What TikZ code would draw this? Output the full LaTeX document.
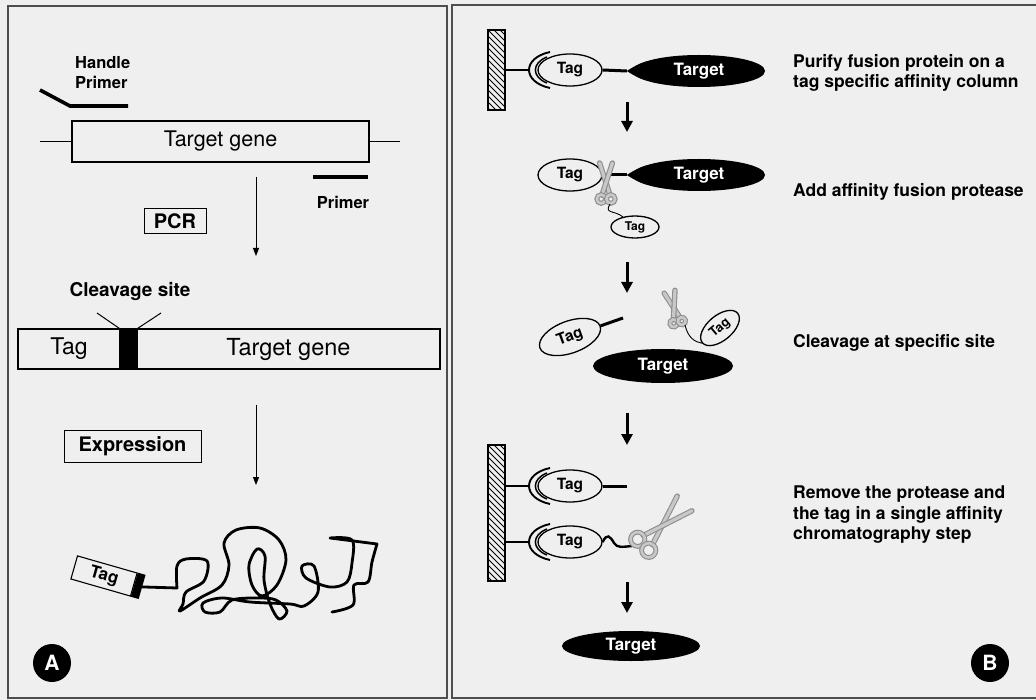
\documentclass[tikz,border=0pt]{standalone}
\usepackage{fontspec}
\setmainfont{TeX Gyre Heros}
\usetikzlibrary{shapes.geometric,arrows.meta,calc}

\definecolor{paper}{HTML}{EFEFEF}
\definecolor{frame}{HTML}{4E4E4E}
\definecolor{scisdark}{HTML}{8E8E8E}
\definecolor{scislight}{HTML}{C8C8C8}
\newcommand\setsz[2]{\fontsize{#1}{#2}\selectfont}

\tikzset{
  panel/.style={draw=frame, line width=1.4pt},
  genebox/.style={draw, line width=1.1pt, inner sep=0pt, minimum height=41pt},
  stepbox/.style={draw, line width=1pt, inner sep=0pt, font=\bfseries\setsz{20}{24}},
  boldtxt/.style={font=\bfseries\setsz{#1}{20}, inner sep=0pt},
  notetxt/.style={anchor=west, align=left, inner sep=0pt, font=\bfseries\setsz{17.5}{20.5}},
  thinarrow/.style={line width=1pt, -{Triangle[width=6pt,length=8pt]}},
  bigarrow/.style={line width=3pt, -{Triangle[width=11pt,length=11pt]}},
  tagell/.style={ellipse, draw, line width=1.3pt, minimum width=64pt, minimum height=32pt,
    inner sep=0pt, font=\bfseries\setsz{15.5}{18}},
  smalltag/.style={tagell, minimum width=48pt, minimum height=22pt, font=\bfseries\setsz{12}{14}},
  targetell/.style={ellipse, fill=black, minimum width=138pt, minimum height=32pt, inner sep=0pt,
    text=white, font=\bfseries\setsz{17}{20}},
  link/.style={line width=3pt},
  stalk/.style={line width=2pt},
  column/.style={draw, line width=1.1pt, minimum width=17pt, inner sep=0pt,
    path picture={\foreach \k in {-4,...,24}
      \draw[line width=0.8pt] ($(path picture bounding box.north west)+(0,\k*6)$) -- ++(22,22);}},
  badge/.style={circle, fill=black, minimum size=38pt, inner sep=0pt, text=white,
    font=\bfseries\setsz{21}{24}},
  scisblade/.style={draw=scisdark, line width=1.1pt, double=scislight, double distance=3.2pt, line cap=round},
  scisring/.style={draw=scisdark, line width=1.1pt, double=scislight, double distance=2.6pt},
  scis/.pic={
    \draw[scisblade] (5,10) -- (-8,-30);
    \draw[scisblade] (-5,10) -- (8,-30);
    \draw[scisring] (-6,15) circle[radius=5.5];
    \draw[scisring] (6,15) circle[radius=5.5];
  },
  grip/.pic={
    \draw[line width=1.9pt] (-20,-18) .. controls (-48,-12) and (-48,12) .. (-20,18);
    \draw[line width=1.5pt] (-23,-13) .. controls (-38.5,-7) and (-38.5,7) .. (-23,13);
  },
  % pointed left end of a fused target protein
  tgttip/.pic={
    \fill (-6,0) .. controls (2,-5) and (10,-10) .. (20,-10) -- (20,10)
      .. controls (10,10) and (2,5) .. (-6,0);
  }
}

\begin{document}
\begin{tikzpicture}[x=1pt,y=-1pt]
\useasboundingbox (0,0) rectangle (1036,700);
\fill[paper] (0,0) rectangle (1036,700);

% two framed panels
\draw[panel] (8,6) rectangle (447,698);
\draw[panel] (452,5) rectangle (1042,698);

% ---------------- panel A: cloning ----------------
\node[boldtxt=16.5, anchor=west, align=left] (hp) at (75,73) {Handle\\Primer};
\coordinate (hp1) at (40,90);
\coordinate (hp2) at (70,106);
\coordinate (hp3) at (128,106);
\draw[line width=3.6pt] (hp1) -- (hp2) -- (hp3);

\node[genebox, minimum width=297pt, font=\setsz{21.5}{24}] (g1) at (220.5,141.5) {Target gene};
\coordinate (fl) at (40,141.5);
\coordinate (fr) at (400,141.5);
\draw[line width=1pt] (fl) -- (g1.west);
\draw[line width=1pt] (g1.east) -- (fr);

\coordinate (pr1) at (313,177);
\coordinate (pr2) at (368,177);
\draw[line width=4pt] (pr1) -- (pr2);
\node[boldtxt=16.5] (prt) at (343,202) {Primer};

\node[stepbox, minimum width=62pt, minimum height=25pt] (pcr) at (175,221) {PCR};
\coordinate (a1s) at (256,177);
\coordinate (a1e) at (256,256);
\draw[thinarrow] (a1s) -- (a1e);

\node[boldtxt=19] (cs) at (130,291) {Cleavage site};
\node[genebox, minimum width=102pt, minimum height=40pt, font=\setsz{23}{26}] (ftag) at (69,349) {Tag};
\node[genebox, minimum width=17pt, minimum height=40pt, fill=black] (fbar) at (128.5,349) {};
\node[genebox, minimum width=303pt, minimum height=40pt, font=\setsz{23.5}{26}] (fgene) at (288.5,349) {Target gene};
\coordinate (cl1) at (97,313);
\coordinate (cl2) at (161,313);
\draw[line width=1pt] (fbar.north west) -- (cl1);
\draw[line width=1pt] (fbar.north east) -- (cl2);

\node[stepbox, minimum width=137pt, minimum height=32pt] (expr) at (132.5,446) {Expression};
\coordinate (a2s) at (256,405);
\coordinate (a2e) at (256,485);
\draw[thinarrow] (a2s) -- (a2e);

% expressed fusion protein: tag plus unfolded chain
\node[draw, line width=1.1pt, rotate=-16, minimum width=62pt, minimum height=24pt, inner sep=0pt,
  font=\bfseries\setsz{17}{20}] (ptag) at (104,576) {Tag};
\node[draw, line width=1.1pt, fill=black, rotate=-16, minimum width=7pt, minimum height=24pt,
  inner sep=0pt, anchor=west] (pcap) at (ptag.east) {};
\draw[line width=2.8pt, line join=round, line cap=round]
  (pcap.east) -- plot[smooth, tension=0.55] coordinates {
    (177,588) (177,566) (186,559) (207,561) (204,581) (186,592) (183,604) (180,611)
    (200,598) (222,585) (229,565) (224,543) (236,530) (260,528) (279,540) (286,560)
    (277,585) (262,596) (252,585) (249,565) (257,549) (265,556) (264,580) (270,604)
    (279,619) (287,611) (276,600) (258,598) (232,600) (220,612) (205,612) (203,603)
    (222,598) (250,602) (290,604) (304,606) (318,592) (314,566) (302,566) (306,578)
    (330,587) (347,582) (352,563) (352,540) (330,538)}
  -- (377,544)
  -- plot[smooth, tension=0.55] coordinates {(377,544) (372,562) (368,582) (354,585) (353,605) (332,612)};

\node[badge] (badgeA) at (52,663) {A};

% ---------------- panel B: purification ----------------
% step 1: bound to the affinity column
\node[column, minimum height=80pt] (col1) at (496.5,70) {};
\node[tagell] (tag1) at (570,70) {Tag};
\pic at (tag1.center) {grip};
\coordinate (g1c) at ($(tag1.center)+(-41,0)$);
\draw[stalk] (col1.east |- g1c) -- (g1c);
\node[targetell, minimum width=132pt] (tgt1) at (699,71) {Target};
\pic at (tgt1.west) {tgttip};
\coordinate (tip1) at ($(tgt1.west)+(-6,0)$);
\draw[link] (tag1.east) -- (tip1);
\node[notetxt] (n1) at (793,73) {Purify fusion protein on a\\tag specific affinity column};

\coordinate (b1s) at (627,102);
\coordinate (b1e) at (627,132);
\draw[bigarrow] (b1s) -- (b1e);

% step 2: protease added
\node[tagell] (tag2) at (570,175) {Tag};
\node[targetell, minimum width=132pt] (tgt2) at (699,175) {Target};
\pic at (tgt2.west) {tgttip};
\coordinate (tip2) at ($(tgt2.west)+(-6,0)$);
\draw[link] (tag2.east) -- (tip2);
\pic[scale=0.8] at (606,187) {scis};
\node[smalltag] (st2) at (635,227) {Tag};
\coordinate (h2) at (610,204);
\draw[line width=0.9pt] (h2) .. controls (604,214) and (614,210) .. (st2.140);
\node[notetxt] (n2) at (793,192) {Add affinity fusion protease};

\coordinate (b2s) at (627,262);
\coordinate (b2e) at (627,293);
\draw[bigarrow] (b2s) -- (b2e);

% step 3: cleavage
\node[tagell, rotate=20] (tag3) at (570,337) {Tag};
\coordinate (cut3) at (623,318);
\draw[link] (tag3.east) -- (cut3);
\pic[scale=0.7, rotate=15] at (675,312) {scis};
\node[smalltag, rotate=40, minimum width=46pt, minimum height=25pt, font=\bfseries\setsz{13}{15}] (st3) at (720,328) {Tag};
\coordinate (h3) at (685,325);
\draw[line width=0.9pt] (h3) .. controls (688,338) and (695,342) .. (st3.west);
\node[targetell, minimum width=140pt, minimum height=34pt] (tgt3) at (663,366) {Target};
\node[notetxt] (n3) at (793,343) {Cleavage at specific site};

\coordinate (b3s) at (627,413);
\coordinate (b3e) at (627,445);
\draw[bigarrow] (b3s) -- (b3e);

% step 4: tag and protease retained on the column
\node[column, minimum height=136pt] (col2) at (496.5,513) {};
\node[tagell] (tag4) at (570,486) {Tag};
\pic at (tag4.center) {grip};
\coordinate (g4c) at ($(tag4.center)+(-41,0)$);
\draw[stalk] (col2.east |- g4c) -- (g4c);
\coordinate (e4) at (627,486);
\draw[link] (tag4.east) -- (e4);

\node[tagell] (tag5) at (570,542) {Tag};
\pic at (tag5.center) {grip};
\coordinate (g5c) at ($(tag5.center)+(-41,0)$);
\draw[stalk] (col2.east |- g5c) -- (g5c);
\coordinate (w5) at (632,546);
\draw[line width=2.4pt] (tag5.east) .. controls (607,533) and (610,536) .. (614,543)
  .. controls (617,548) and (622,547) .. (w5);
\pic[scale=1.3, rotate=-45] at (657,531) {scis};
\node[notetxt] (n4) at (793,515) {Remove the protease and\\the tag in a single affinity\\chromatography step};

\coordinate (b4s) at (627,582);
\coordinate (b4e) at (627,613);
\draw[bigarrow] (b4s) -- (b4e);

\node[targetell, minimum width=138pt, minimum height=30pt] (tgt5) at (631,646) {Target};

\node[badge] (badgeB) at (990,663) {B};
\end{tikzpicture}
\end{document}
